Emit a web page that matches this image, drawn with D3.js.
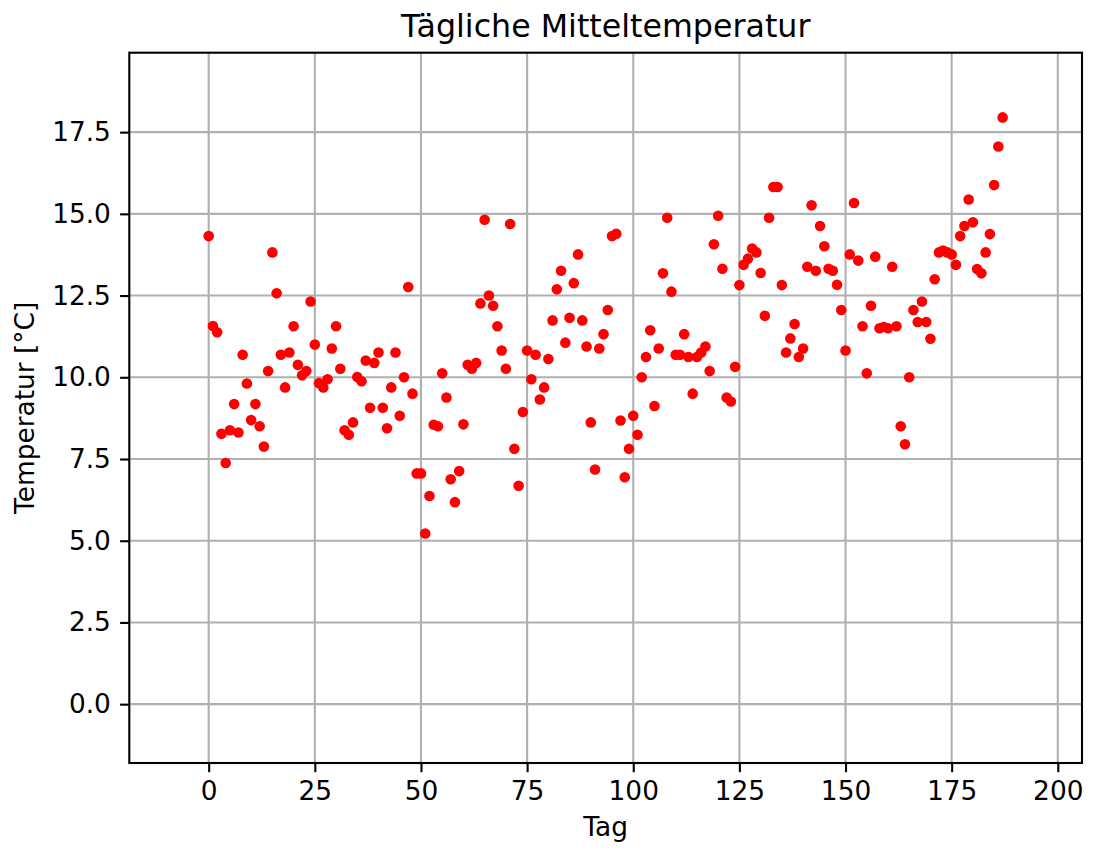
<!DOCTYPE html>
<html>
<head>
<meta charset="utf-8">
<script src="https://cdnjs.cloudflare.com/ajax/libs/d3/7.8.5/d3.min.js"></script>
<style>
  body { margin: 0; background: #fff; }
  text { font-family: "DejaVu Sans", sans-serif; fill: #000; }
</style>
</head>
<body>
<div id="container"></div>
<script>
var width = 1098;
var height = 850;

// Tagesmittel (Tag = Index)
var temperaturen = [
  14.32, 11.57, 11.38, 8.27, 7.38, 8.38, 9.18, 8.31, 10.69, 9.81,
  8.69, 9.18, 8.50, 7.88, 10.19, 13.82, 12.57, 10.69, 9.69, 10.76,
  11.56, 10.38, 10.06, 10.19, 12.32, 11.00, 9.82, 9.69, 9.94, 10.88,
  11.56, 10.26, 8.38, 8.24, 8.62, 10.01, 9.88, 10.51, 9.07, 10.44,
  10.76, 9.07, 8.44, 9.69, 10.76, 8.82, 10.00, 12.76, 9.50, 7.06,
  7.06, 5.22, 6.37, 8.55, 8.50, 10.12, 9.38, 6.88, 6.18, 7.13,
  8.56, 10.38, 10.26, 10.44, 12.26, 14.82, 12.50, 12.19, 11.56, 10.82,
  10.26, 14.69, 7.81, 6.68, 8.94, 10.82, 9.94, 10.69, 9.32, 9.69,
  10.56, 11.74, 12.69, 13.26, 11.06, 11.82, 12.88, 13.76, 11.74, 10.94,
  8.62, 7.18, 10.88, 11.32, 12.06, 14.32, 14.39, 8.68, 6.94, 7.81,
  8.82, 8.24, 10.00, 10.62, 11.44, 9.12, 10.88, 13.18, 14.88, 12.62,
  10.69, 10.69, 11.32, 10.62, 9.50, 10.62, 10.76, 10.94, 10.19, 14.07,
  14.94, 13.32, 9.38, 9.26, 10.32, 12.82, 13.44, 13.63, 13.94, 13.82,
  13.19, 11.88, 14.88, 15.82, 15.82, 12.82, 10.76, 11.19, 11.63, 10.62,
  10.88, 13.38, 15.26, 13.26, 14.63, 14.01, 13.32, 13.26, 12.83, 12.06,
  10.82, 13.76, 15.33, 13.57, 11.56, 10.12, 12.19, 13.69, 11.50, 11.54,
  11.50, 13.38, 11.56, 8.50, 7.95, 10.00, 12.06, 11.69, 12.32, 11.69,
  11.18, 13.00, 13.82, 13.88, 13.82, 13.76, 13.44, 14.32, 14.63, 15.44,
  14.74, 13.31, 13.18, 13.82, 14.38, 15.88, 17.06, 17.95
];
var tage = temperaturen.map(function(t, i) { return i; });

var xTicks = [0, 25, 50, 75, 100, 125, 150, 175, 200];
var yTicks = [0, 2.5, 5, 7.5, 10, 12.5, 15, 17.5];

var plot = { left: 129.3, right: 1082, top: 52.7, bottom: 763 };

var svg = d3.select("div#container").append("svg")
    .attr("width", width)
    .attr("height", height)
    .attr("viewBox", "0 0 " + width + " " + height);

svg.append("rect")
    .attr("width", width)
    .attr("height", height)
    .attr("fill", "#fff");

var x = d3.scaleLinear()
    .domain([-18.7, 205.7])
    .range([plot.left, plot.right]);

var y = d3.scaleLinear()
    .domain([-1.8, 19.93])
    .range([plot.bottom, plot.top]);

// grid
var grid = svg.append("g").attr("class", "grid");

grid.selectAll("line.gx")
    .data(xTicks)
    .enter()
    .append("line")
    .attr("class", "gx")
    .attr("x1", function(d) { return x(d); })
    .attr("x2", function(d) { return x(d); })
    .attr("y1", plot.top)
    .attr("y2", plot.bottom)
    .attr("stroke", "#b0b0b0")
    .attr("stroke-width", 2.1);

grid.selectAll("line.gy")
    .data(yTicks)
    .enter()
    .append("line")
    .attr("class", "gy")
    .attr("x1", plot.left)
    .attr("x2", plot.right)
    .attr("y1", function(d) { return y(d); })
    .attr("y2", function(d) { return y(d); })
    .attr("stroke", "#b0b0b0")
    .attr("stroke-width", 2.1);

// points
svg.append("g")
    .selectAll("circle")
    .data(temperaturen)
    .enter()
    .append("circle")
    .attr("cx", function(d, i) { return x(tage[i]); })
    .attr("cy", function(d) { return y(d); })
    .attr("r", 5.3)
    .attr("fill", "#ff0000");

// axes
var xAxis = d3.axisBottom(x)
    .tickValues(xTicks)
    .tickSize(9.2)
    .tickPadding(9.5)
    .tickFormat(d3.format("d"));

var yAxis = d3.axisLeft(y)
    .tickValues(yTicks)
    .tickSize(9.2)
    .tickPadding(9.2)
    .tickFormat(d3.format(".1f"));

var gx = svg.append("g")
    .attr("transform", "translate(0," + plot.bottom + ")")
    .call(xAxis);

var gy = svg.append("g")
    .attr("transform", "translate(" + plot.left + ",0)")
    .call(yAxis);

[gx, gy].forEach(function(g) {
    g.select(".domain").remove();
    g.selectAll(".tick line").attr("stroke", "#000").attr("stroke-width", 2.1);
    g.selectAll(".tick text")
        .style("font-family", "'DejaVu Sans', sans-serif")
        .style("font-size", "26.4px")
        .attr("fill", "#000");
});

// frame
svg.append("rect")
    .attr("x", plot.left)
    .attr("y", plot.top)
    .attr("width", plot.right - plot.left)
    .attr("height", plot.bottom - plot.top)
    .attr("fill", "none")
    .attr("stroke", "#000")
    .attr("stroke-width", 2.1);

// labels
var midX = (plot.left + plot.right) / 2;
var midY = (plot.top + plot.bottom) / 2;

svg.append("text")
    .attr("x", midX)
    .attr("y", 37)
    .attr("text-anchor", "middle")
    .style("font-size", "31.7px")
    .text("Tägliche Mitteltemperatur");

svg.append("text")
    .attr("x", midX)
    .attr("y", 836)
    .attr("text-anchor", "middle")
    .style("font-size", "26.4px")
    .text("Tag");

svg.append("text")
    .attr("transform", "translate(34," + midY + ") rotate(-90)")
    .attr("text-anchor", "middle")
    .style("font-size", "26.4px")
    .text("Temperatur [°C]");
</script>
</body>
</html>
